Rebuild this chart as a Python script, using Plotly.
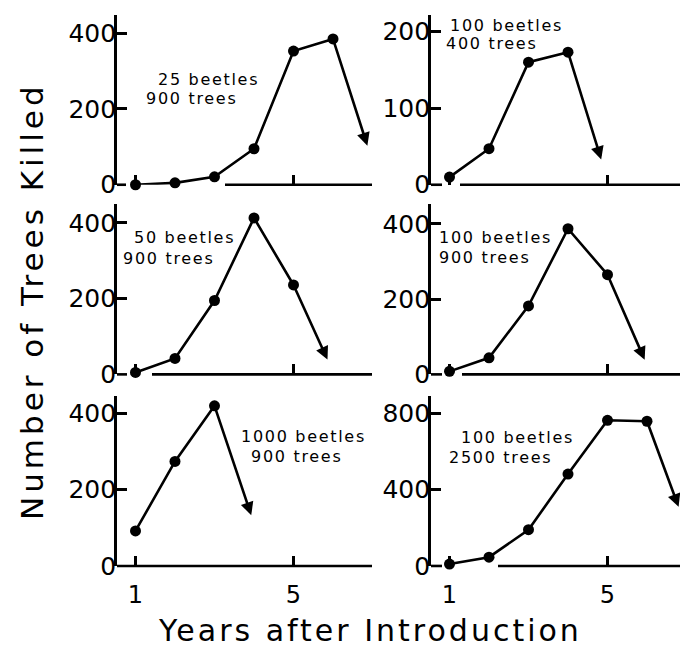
import plotly.graph_objects as go

# ---------------- data ----------------
years = [1, 2, 3, 4, 5, 6]
kills_25b_900t = [0, 5, 21, 95, 353, 385]
kills_100b_400t = [10, 47, 160, 173]
kills_50b_900t = [5, 42, 195, 413, 236]
kills_100b_900t = [8, 44, 182, 387, 265]
kills_1000b_900t = [92, 274, 420]
kills_100b_2500t = [10, 46, 190, 482, 764, 759]

arrow_end_year = [6.87, 4.84, 5.86, 5.94, 3.93, 6.80]
arrow_end_kills = [103, 33, 39, 39, 133, 310]

beetles_labels = ["25 beetles", "100 beetles", "50 beetles", "100 beetles", "1000 beetles", "100 beetles"]
trees_labels = ["900 trees", "400 trees", "900 trees", "900 trees", "900 trees", "2500 trees"]

y_tick_values = [[0, 200, 400], [0, 100, 200], [0, 200, 400], [0, 200, 400], [0, 200, 400], [0, 400, 800]]
x_tick_values = [1, 5]
x_tick_labels = ["1", "5"]

series = [kills_25b_900t, kills_100b_400t, kills_50b_900t, kills_100b_900t, kills_1000b_900t, kills_100b_2500t]

# ---------------- layout geometry (pixels) ----------------
W, H = 680, 666
cols = [(117, 372), (431, 680)]
rows = [(15, 189), (209, 383), (405, 579)]
px_per_year = 39.5
year1_offset = 18.5
y_range_top = [449, 222, 449, 452, 446, 892]

# label positions (left x, center y) per panel for the two text lines
label_pos = [((157, 81), (145, 101)),
             ((449, 26), (445, 45)),
             ((133, 243), (122, 264)),
             ((438, 243), (438, 263)),
             ((240, 447), (250, 467)),
             ((460, 448), (448, 468))]

# baseline segments (scan gaps preserved)
baseline_segments = [[(117, 126), (225, 372)],
                     [(431, 442), (460, 680)],
                     [(117, 127), (152, 372)],
                     [(431, 442), (462, 680)],
                     [(117, 372)],
                     [(431, 442), (498, 680)]]

def px(x):
    return x / W

def py(y):
    return 1 - y / H

def spaced(text, sp):
    return '<span style="letter-spacing:%spx">%s</span>' % (sp, text)

FONT = "DejaVu Sans"
fig = go.Figure()
annotations = []
shapes = []
layout_axes = {}

for i, vals in enumerate(series):
    r, c = divmod(i, 2)
    L, R = cols[c]
    T, B = rows[r]
    xs = "" if i == 0 else str(i + 1)
    xname, yname = "x" + xs, "y" + xs
    x0 = 1 - year1_offset / px_per_year
    x1 = x0 + (R - L) / px_per_year
    fig.add_trace(go.Scatter(
        x=years[:len(vals)], y=vals, xaxis=xname, yaxis=yname,
        mode="lines+markers", cliponaxis=False,
        line=dict(color="black", width=2.6),
        marker=dict(color="black", size=11),
        hoverinfo="skip"))
    # arrow continuing from the last point
    annotations.append(dict(
        x=arrow_end_year[i], y=arrow_end_kills[i], xref=xname, yref=yname,
        ax=years[len(vals) - 1], ay=vals[-1], axref=xname, ayref=yname,
        text="", showarrow=True, arrowhead=2, arrowsize=1.0, arrowwidth=2.6,
        arrowcolor="black", standoff=0, startstandoff=0))
    (bx, by), (tx, ty) = label_pos[i]
    annotations.append(dict(x=px(bx), y=py(by), xref="paper", yref="paper",
                            text=spaced(beetles_labels[i], 1.7), showarrow=False,
                            xanchor="left", yanchor="middle", borderpad=0,
                            font=dict(family=FONT, size=16, color="black")))
    annotations.append(dict(x=px(tx), y=py(ty), xref="paper", yref="paper",
                            text=spaced(trees_labels[i], 1.7), showarrow=False,
                            xanchor="left", yanchor="middle", borderpad=0,
                            font=dict(family=FONT, size=16, color="black")))
    for (s0, s1) in baseline_segments[i]:
        shapes.append(dict(type="line", xref="paper", yref="paper",
                           x0=px(s0), x1=px(s1), y0=py(B), y1=py(B),
                           line=dict(color="black", width=2.6)))
    xkey = "xaxis" + xs
    ykey = "yaxis" + xs
    layout_axes[xkey] = dict(
        domain=[px(L), px(R)], range=[x0, x1], anchor=yname,
        showline=False, showgrid=False, zeroline=False,
        tickmode="array", tickvals=x_tick_values, ticktext=x_tick_labels,
        ticks="inside", ticklen=10, tickwidth=2.5, tickcolor="black",
        showticklabels=(r == 2), ticklabelstandoff=12,
        tickfont=dict(family=FONT, size=24, color="black"), fixedrange=True)
    layout_axes[ykey] = dict(
        domain=[py(B), py(T)], range=[0, y_range_top[i]], anchor=xname,
        showline=True, linecolor="black", linewidth=2.6,
        showgrid=False, zeroline=False,
        tickmode="array", tickvals=y_tick_values[i],
        ticktext=[str(v) for v in y_tick_values[i]],
        ticks="inside", ticklen=10, tickwidth=2.5, tickcolor="black",
        ticklabelstandoff=-7,
        tickfont=dict(family=FONT, size=25, color="black"), fixedrange=True)

annotations.append(dict(x=px(370), y=py(645), xref="paper", yref="paper",
                        text=spaced("Years after Introduction", 3), showarrow=False,
                        xanchor="center", yanchor="middle", borderpad=0,
                        font=dict(family=FONT, size=30, color="black")))
annotations.append(dict(x=px(32), y=py(308), xref="paper", yref="paper",
                        text=spaced("Number of Trees Killed", 4), showarrow=False,
                        textangle=-90, xanchor="center", yanchor="middle",
                        font=dict(family=FONT, size=31, color="black")))

fig.update_layout(
    width=W, height=H, margin=dict(l=0, r=0, t=0, b=0),
    paper_bgcolor="white", plot_bgcolor="white", showlegend=False,
    annotations=annotations, shapes=shapes, **layout_axes)

fig.write_html("out.html")
